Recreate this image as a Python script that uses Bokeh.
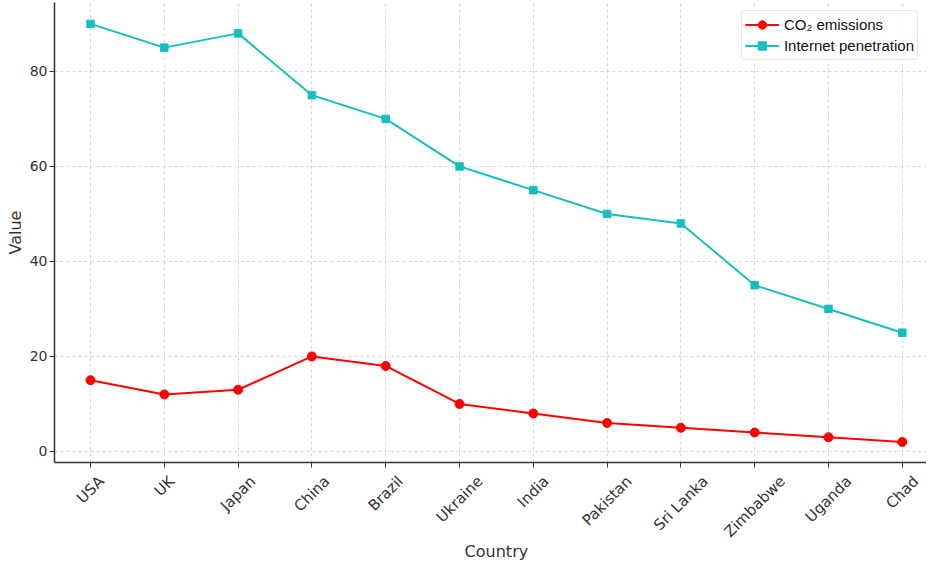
from bokeh.plotting import figure
from bokeh.models import Range1d, FixedTicker, Legend, LegendItem
from bokeh.layouts import column
from bokeh.core.properties import value
from bokeh.embed import file_html
from bokeh.resources import INLINE
import math

countries = ["USA", "UK", "Japan", "China", "Brazil", "Ukraine", "India",
             "Pakistan", "Sri Lanka", "Zimbabwe", "Uganda", "Chad"]
co2 = [15, 12, 13, 20, 18, 10, 8, 6, 5, 4, 3, 2]
internet = [90, 85, 88, 75, 70, 60, 55, 50, 48, 35, 30, 25]
y_ticks = [0, 20, 40, 60, 80]

xs = list(range(len(countries)))

FONT = "DejaVu Sans"
TXT = "#333333"
TICK_PX = 14
XTICK_PX = 15
W = 926
LEFT = 54
MAIN_H = 470
LAB_H = 90

# text width measurement for centring rotated tick labels (matplotlib style)
def _make_tw():
    try:
        from PIL import ImageFont
        for path in ("/usr/share/fonts/truetype/dejavu/DejaVuSans.ttf", "DejaVuSans.ttf"):
            try:
                f = ImageFont.truetype(path, XTICK_PX)
                return lambda s: f.getlength(s)
            except Exception:
                pass
    except Exception:
        pass
    return lambda s: 0.62 * XTICK_PX * len(s)
tw = _make_tw()

x_range = Range1d(-0.488, 11.328)

p = figure(width=W, height=MAIN_H, output_backend="svg", toolbar_location=None,
           x_range=x_range, y_range=Range1d(-2.32, 94.5),
           min_border_left=LEFT, min_border_right=0, min_border_top=2,
           min_border_bottom=8)
p.outline_line_color = None
p.background_fill_color = "white"
p.border_fill_color = "white"

l1 = p.line(xs, co2, line_color="#ff0000", line_width=2)
m1 = p.scatter(xs, co2, marker="circle", size=9, fill_color="#ff0000", line_color="#ff0000")
l2 = p.line(xs, internet, line_color="#17bebe", line_width=2)
m2 = p.scatter(xs, internet, marker="square", size=7.5, fill_color="#17bebe", line_color="#17bebe")

legend = Legend(items=[LegendItem(label="CO₂ emissions", renderers=[l1, m1]),
                       LegendItem(label="Internet penetration", renderers=[l2, m2])],
                location="top_right")
legend.label_text_font = "Liberation Sans"
legend.label_text_font_size = "15px"
legend.label_text_color = "#111111"
legend.border_line_color = "#cccccc"
legend.border_line_width = 1
legend.border_radius = 4
legend.background_fill_alpha = 0.9
legend.spacing = 0
legend.padding = 3
legend.margin = 8
legend.glyph_width = 34
legend.label_standoff = 5
legend.label_height = 21
legend.glyph_height = 21
p.add_layout(legend)

p.xaxis.ticker = FixedTicker(ticks=xs)
p.xaxis.major_label_overrides = {i: "" for i in xs}
p.yaxis.ticker = FixedTicker(ticks=y_ticks)

for ax in (p.xaxis[0], p.yaxis[0]):
    ax.axis_line_color = "#333333"
    ax.axis_line_width = 1.5
    ax.major_tick_line_color = "#333333"
    ax.major_tick_out = 5
    ax.major_tick_in = 0
    ax.minor_tick_line_color = None
    ax.major_label_text_font = FONT
    ax.major_label_text_font_size = f"{TICK_PX}px"
    ax.major_label_text_color = TXT
    ax.axis_label_text_font = FONT
    ax.axis_label_text_font_size = "16px"
    ax.axis_label_text_font_style = "normal"
    ax.axis_label_text_color = TXT

p.xaxis.major_label_text_font_size = "0px"
p.xaxis.major_label_standoff = 0
p.yaxis.axis_label = "Value"
p.yaxis.axis_label_standoff = 2
p.yaxis.major_label_standoff = 2

p.xgrid.grid_line_color = "#cccccc"
p.ygrid.grid_line_color = "#cccccc"
p.xgrid.grid_line_dash = "3 3"
p.ygrid.grid_line_dash = "3 3"
p.xgrid.grid_line_width = 0.8
p.ygrid.grid_line_width = 0.8

# label strip below the plot: rotated category labels centred under ticks, and axis title
lab = figure(width=W, height=LAB_H, output_backend="svg", toolbar_location=None,
             x_range=x_range, y_range=Range1d(0, LAB_H),
             x_axis_location=None, y_axis_location=None,
             min_border_left=LEFT, min_border_right=0, min_border_top=0,
             min_border_bottom=0)
lab.outline_line_color = None
lab.xgrid.visible = False
lab.ygrid.visible = False
lab.background_fill_color = "white"
lab.border_fill_color = "white"

s45 = math.sin(math.pi / 4)
pad = 2
ys = [LAB_H - (pad + (tw(c) + 1.16 * XTICK_PX) * s45 / 2) for c in countries]
lab.text(x=xs, y=ys, text=countries, angle=math.pi / 4,
         text_align="center", text_baseline="middle",
         text_font=value(FONT), text_font_size=value(f"{XTICK_PX}px"),
         text_color=TXT)
lab.text(x=[(len(countries) - 1) / 2], y=[9], text=["Country"],
         text_align="center", text_baseline="middle",
         text_font=value(FONT), text_font_size=value("16px"), text_color=TXT)

layout = column(p, lab, spacing=0)
open("out.html", "w").write(file_html(layout, INLINE))
